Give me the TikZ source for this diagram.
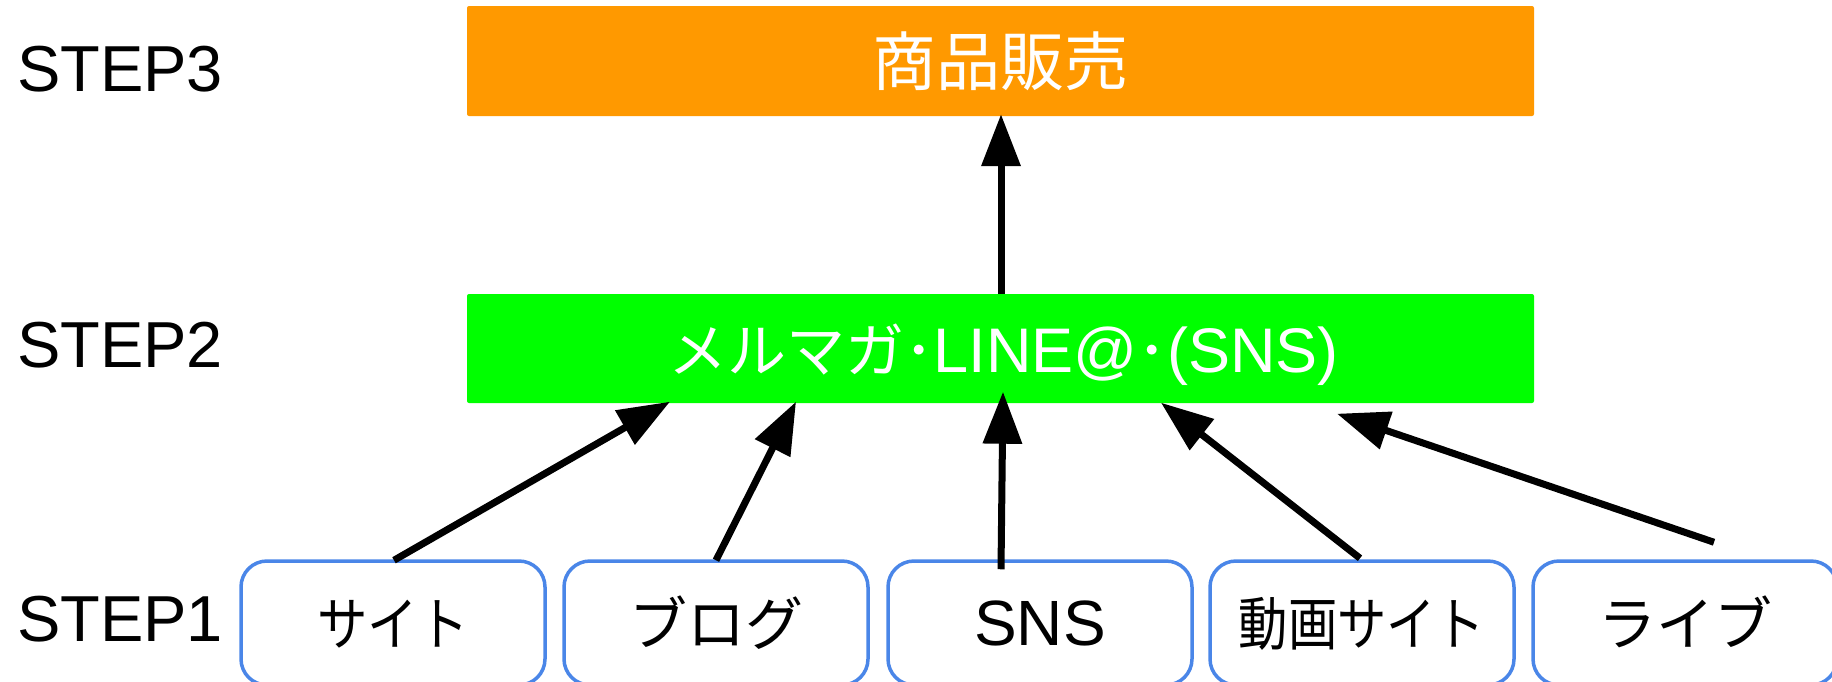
\documentclass[tikz,border=0pt]{standalone}
\usepackage{fontspec}
\setmainfont{Liberation Sans}
\newfontfamily\cjk{Noto Sans CJK JP}
\usetikzlibrary{arrows.meta,calc}
\definecolor{orangeC}{HTML}{FF9900}
\definecolor{greenC}{HTML}{00FF00}
\definecolor{blueC}{HTML}{4A86E8}
\begin{document}
\begin{tikzpicture}[x=1pt,y=-1pt,
  bar/.style={fill=#1, draw=none, rounded corners=2pt, minimum width=1067pt, inner sep=0pt, text=white},
  src/.style={draw=blueC, line width=3.5pt, rounded corners=26pt, fill=white, minimum width=304pt, minimum height=124pt, inner sep=0pt, text height=44pt, text depth=0pt, font=\fontsize{64}{64}\selectfont},
  steplabel/.style={anchor=base west, inner sep=0pt, font=\fontsize{65}{65}\selectfont},
  arr/.style={line width=7pt, -{Triangle[length=52pt,width=38pt]}}
]
\useasboundingbox (0,0) rectangle (1832,681);

\node[steplabel] (l3) at (17,91) {STEP3};
\node[steplabel] (l2) at (17,367) {STEP2};
\node[steplabel] (l1) at (17,641) {STEP1};

\node[bar=orangeC, minimum height=110pt, text height=48pt, text depth=0pt] (sales) at (1000.5,61) {\cjk\fontsize{64}{64}\selectfont 商品販売};
\node[bar=greenC, minimum height=109pt, text height=47pt, text depth=0pt, font=\fontsize{63}{63}\selectfont] (green) at (1000.5,348.5) {\hspace*{6pt}{\cjk\fontsize{59}{59}\selectfont メルマガ･}LINE@{\cjk\fontsize{59}{59}\selectfont ･}(SNS)};

\node[src] (site) at (393,623) {\cjk\fontsize{58}{58}\selectfont\scalebox{0.87}[1]{サイト}};
\node[src] (blog) at (716,623) {\cjk\fontsize{58}{58}\selectfont ブログ};
\node[src] (sns) at (1040,623) {SNS};
\node[src] (douga) at (1362,623) {\cjk\fontsize{58}{58}\selectfont\scalebox{0.85}[1]{動画サイト}};
\node[src] (live) at (1685,623) {\cjk\fontsize{58}{58}\selectfont ライブ};

\draw[arr] ($(site.north)+(1,1)$) -- ($(green.south)+(-330.5,-1.5)$);
\draw[arr] ($(blog.north)+(0,1)$) -- ($(green.south)+(-204.5,-1.5)$);
\draw[arr] ($(sns.north)+(-39,10)$) -- ($(green.south)+(2.5,-11.5)$);
\draw[arr] ($(douga.north)+(-2,-1)$) -- ($(green.south)+(160.5,-0.5)$);
\draw[arr] ($(live.north)+(29,-17)$) -- ($(green.south)+(336.5,10.5)$);
\draw[arr] ($(green.north)+(0.5,0)$) -- ($(sales.south)+(0.5,-2)$);
\end{tikzpicture}
\end{document}
